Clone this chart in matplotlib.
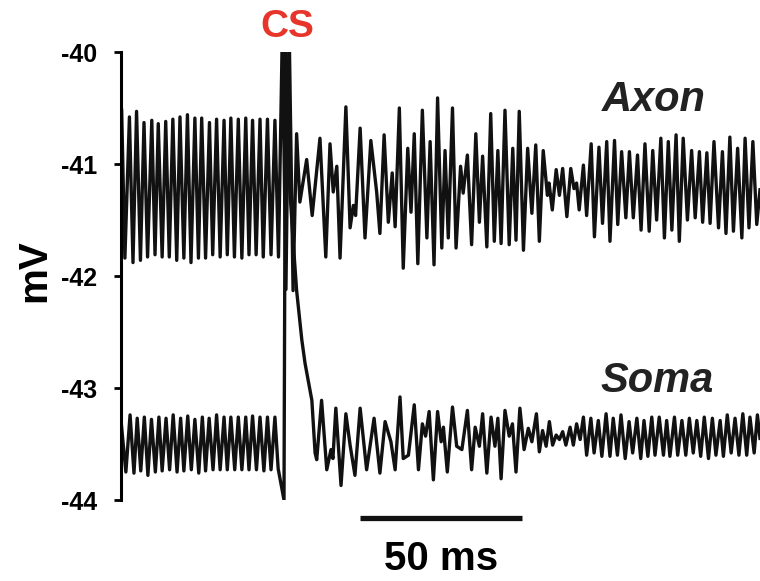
import numpy as np
import matplotlib
matplotlib.use("Agg")
import matplotlib.pyplot as plt

plt.rcParams["font.family"] = ["Liberation Sans", "DejaVu Sans"]
plt.rcParams["font.weight"] = "bold"

# --- data (time in ms, potential in mV) ---
# axon: alternating extrema, before the CS, the CS itself, then after it
axon_t_pre = [0.2, 1.2, 2.6, 3.7, 4.8, 6.0, 7.1, 8.2, 9.5, 10.5, 11.5, 12.7,
              13.8, 14.9, 16.0, 17.2, 18.2, 19.4, 20.5, 21.6, 22.8, 23.9,
              24.9, 26.1, 27.3, 28.3, 29.5, 30.6, 31.8, 32.8, 33.9, 35.0,
              36.2, 37.3, 38.5, 39.5, 40.6, 41.7, 42.9, 43.9, 45.2, 46.3,
              47.5, 48.6]
axon_v_pre = [-40.52, -41.84, -40.58, -41.88, -40.53, -41.86, -40.63, -41.83,
              -40.61, -41.81, -40.64, -41.83, -40.62, -41.83, -40.60, -41.86,
              -40.58, -41.84, -40.56, -41.88, -40.59, -41.84, -40.59, -41.84,
              -40.63, -41.81, -40.60, -41.83, -40.61, -41.81, -40.59, -41.83,
              -40.60, -41.84, -40.59, -41.81, -40.61, -41.81, -40.60, -41.83,
              -40.60, -41.81, -40.61, -41.83]
axon_t_cs = [49.8, 50.9, 51.9, 53.1]
axon_v_cs = [-39.8, -42.12, -39.8, -42.13]
axon_t_post = [54.2, 55.2, 57.3, 59.0, 61.4, 63.2, 64.5, 65.5, 66.6, 67.6,
               69.4, 70.7, 71.7, 72.4, 73.8, 75.3, 77.1, 78.9, 79.9, 81.2,
               82.5, 83.7, 84.6, 85.9, 87.1, 88.5, 89.5, 90.5, 91.6, 93.0,
               94.4, 95.4, 96.6, 97.7, 99.0, 100.0, 101.0, 102.3, 103.4, 104.8,
               105.6, 106.9, 108.2, 109.5, 110.6, 111.6, 112.9, 114.1, 115.2,
               116.3, 117.3, 118.5, 119.8, 120.9, 121.9, 122.9, 124.2, 125.5,
               126.8, 128.0, 129.1, 130.3, 131.6, 132.1, 133.1, 134.3, 135.3,
               136.3, 137.6, 138.8, 139.8, 140.6, 141.4, 142.7, 143.7, 145.1,
               146.1, 147.5, 148.6, 149.9, 150.9, 152.3, 153.3, 154.5, 155.8,
               156.9, 158.1, 159.4, 160.5, 161.7, 163.0, 164.1, 165.3, 166.6,
               167.7, 168.9, 170.0, 171.3, 172.3, 173.5, 174.8, 176.1, 177.2,
               178.5, 179.5, 180.8, 181.8, 183.0, 184.4, 185.6, 186.7, 187.9,
               189.0, 190.3, 191.6, 192.6, 193.8, 195.0, 196.2, 197.2]
axon_v_post = [-40.73, -41.34, -40.96, -41.46, -40.77, -41.83, -40.82, -41.25,
               -41.02, -41.84, -40.49, -41.57, -41.37, -41.46, -40.68, -41.66,
               -40.79, -41.25, -41.62, -40.74, -41.52, -41.08, -41.56, -40.50,
               -41.93, -40.86, -41.43, -40.73, -41.89, -40.52, -41.66, -40.80,
               -41.90, -40.41, -41.75, -40.88, -41.66, -40.50, -41.75, -41.02,
               -41.26, -40.92, -41.72, -40.73, -41.52, -40.93, -41.74, -40.55,
               -41.69, -40.88, -41.71, -40.52, -41.72, -40.86, -41.68, -40.53,
               -41.77, -40.86, -41.44, -40.83, -41.69, -40.88, -41.28, -41.17,
               -41.41, -41.05, -41.28, -41.04, -41.47, -41.04, -41.22, -41.17,
               -41.41, -41.01, -41.46, -40.82, -41.65, -40.85, -41.53, -40.80,
               -41.69, -40.79, -41.54, -40.89, -41.48, -40.89, -41.48, -40.92,
               -41.59, -40.82, -41.60, -40.88, -41.50, -40.77, -41.66, -40.80,
               -41.59, -40.74, -41.69, -40.77, -41.50, -40.88, -41.48, -40.89,
               -41.52, -40.90, -41.53, -40.80, -41.57, -40.89, -41.62, -40.76,
               -41.60, -40.86, -41.66, -40.77, -41.57, -40.80, -41.54, -41.23]

# soma
soma_t_pre = [0.0, 1.5, 2.8, 4.0, 5.0, 6.1, 7.2, 8.3, 9.4, 10.6, 11.7, 12.7,
              13.9, 15.0, 16.1, 17.3, 18.4, 19.4, 20.6, 21.7, 22.8, 24.0,
              25.1, 26.1, 27.2, 28.4, 29.5, 30.6, 31.8, 32.8, 33.9, 35.1,
              36.2, 37.3, 38.5, 39.5, 40.6, 41.8, 42.9, 44.1, 45.2, 46.3,
              47.5, 48.5]
soma_v_pre = [-43.29, -43.75, -43.24, -43.76, -43.27, -43.74, -43.26, -43.78,
              -43.28, -43.75, -43.26, -43.74, -43.27, -43.73, -43.24, -43.75,
              -43.27, -43.74, -43.25, -43.73, -43.28, -43.76, -43.26, -43.74,
              -43.27, -43.73, -43.24, -43.73, -43.26, -43.73, -43.26, -43.73,
              -43.26, -43.73, -43.26, -43.73, -43.25, -43.73, -43.26, -43.74,
              -43.26, -43.73, -43.26, -43.72]
soma_t_cs = [50.3, 50.8, 51.9, 53.1, 54.2, 55.8, 56.8, 58.9, 59.9, 60.4]
soma_v_cs = [-44.0, -39.8, -41.14, -41.68, -42.13, -42.57, -42.78, -43.11,
             -43.58, -43.64]
soma_t_post = [61.9, 63.5, 64.8, 65.4, 66.3, 67.9, 69.4, 70.7, 72.2, 73.8,
               75.8, 78.1, 79.9, 81.5, 83.3, 84.6, 86.1, 87.1, 88.7, 90.5,
               91.8, 93.0, 94.0, 95.1, 96.4, 97.7, 98.8, 99.5, 100.7, 102.3,
               103.6, 105.2, 106.9, 108.2, 109.3, 110.6, 111.6, 112.9, 114.2,
               115.4, 116.3, 117.3, 118.5, 119.8, 120.8, 121.9, 123.1, 124.4,
               125.7, 126.8, 128.2, 129.1, 130.1, 131.2, 132.2, 133.2, 134.3,
               135.3, 136.3, 137.3, 138.6, 139.6, 140.6, 141.7, 142.7, 143.7,
               145.0, 146.0, 147.3, 148.4, 149.7, 150.9, 151.9, 153.2, 154.3,
               155.6, 156.8, 157.9, 159.2, 160.4, 161.4, 162.6, 163.8, 164.8,
               166.1, 167.4, 168.4, 169.4, 170.8, 171.8, 173.1, 174.3, 175.4,
               176.6, 177.7, 178.9, 180.0, 181.3, 182.5, 183.6, 184.9, 185.9,
               187.1, 188.3, 189.5, 190.7, 191.9, 193.1, 194.1, 195.4, 196.4,
               197.2]
soma_v_post = [-43.11, -43.73, -43.55, -43.63, -43.18, -43.87, -43.23, -43.51,
               -43.78, -43.18, -43.73, -43.27, -43.76, -43.30, -43.48, -43.73,
               -43.08, -43.63, -43.60, -43.15, -43.73, -43.32, -43.43, -43.21,
               -43.82, -43.21, -43.48, -43.35, -43.75, -43.17, -43.52, -43.55,
               -43.20, -43.73, -43.35, -43.52, -43.23, -43.76, -43.26, -43.52,
               -43.27, -43.81, -43.20, -43.43, -43.32, -43.75, -43.18, -43.55,
               -43.36, -43.48, -43.23, -43.57, -43.38, -43.52, -43.30, -43.51,
               -43.42, -43.46, -43.39, -43.51, -43.35, -43.51, -43.32, -43.46,
               -43.26, -43.60, -43.27, -43.58, -43.29, -43.61, -43.23, -43.61,
               -43.27, -43.60, -43.24, -43.63, -43.30, -43.58, -43.27, -43.63,
               -43.29, -43.61, -43.26, -43.60, -43.26, -43.60, -43.29, -43.61,
               -43.26, -43.60, -43.29, -43.60, -43.27, -43.58, -43.29, -43.61,
               -43.26, -43.63, -43.27, -43.60, -43.29, -43.61, -43.24, -43.58,
               -43.27, -43.60, -43.23, -43.60, -43.26, -43.58, -43.24, -43.45]

yticks = [-40, -41, -42, -43, -44]
scale_ms = 50
scale_start = 73.8

axon_t = axon_t_pre + axon_t_cs + axon_t_post
axon_v = axon_v_pre + axon_v_cs + axon_v_post
soma_t = soma_t_pre + soma_t_cs + soma_t_post
soma_v = soma_v_pre + soma_v_cs + soma_v_post
assert len(axon_t) == len(axon_v) and len(soma_t) == len(soma_v)

fig = plt.figure(figsize=(7.6, 5.81), dpi=100)
ax = fig.add_axes([121 / 760, 1 - 500 / 581, 639 / 760, 448 / 581])

ax.plot(soma_t, soma_v, color="#111111", lw=2.4, solid_joinstyle="round")
ax.plot(axon_t, axon_v, color="#111111", lw=2.4, solid_joinstyle="round")

ax.set_xlim(0, 197.2)
ax.set_ylim(-44, -40)
for side in ["top", "right", "bottom"]:
    ax.spines[side].set_visible(False)
ax.spines["left"].set_linewidth(2.2)
ax.set_xticks([])
ax.set_yticks(yticks)
ax.set_yticklabels([str(v) for v in yticks], fontsize=18, fontweight="bold")
ax.tick_params(axis="y", length=5, width=2, pad=12)

ax.text(-0.135, 0.513, "mV", transform=ax.transAxes, rotation=90,
        ha="center", va="center", fontsize=29, fontweight="bold")
ax.text(51.2, -39.78, "CS", color="#e8352b", fontsize=28, fontweight="bold",
        ha="center", va="center", clip_on=False)
ax.text(164.5, -40.43, "Axon", fontsize=30, fontweight="bold",
        style="italic", ha="center", va="center", color="#222222")
ax.text(165.4, -42.94, "Soma", fontsize=30, fontweight="bold",
        style="italic", ha="center", va="center", color="#222222")

# scale bar
ax.plot([scale_start, scale_start + scale_ms], [-44.16, -44.16], color="#111111",
        lw=3.8, solid_capstyle="butt", clip_on=False)
ax.text(scale_start + scale_ms / 2, -44.53, "%d ms" % scale_ms, fontsize=29,
        fontweight="bold", ha="center", va="center", clip_on=False)

fig.savefig("out.png", dpi=100)
